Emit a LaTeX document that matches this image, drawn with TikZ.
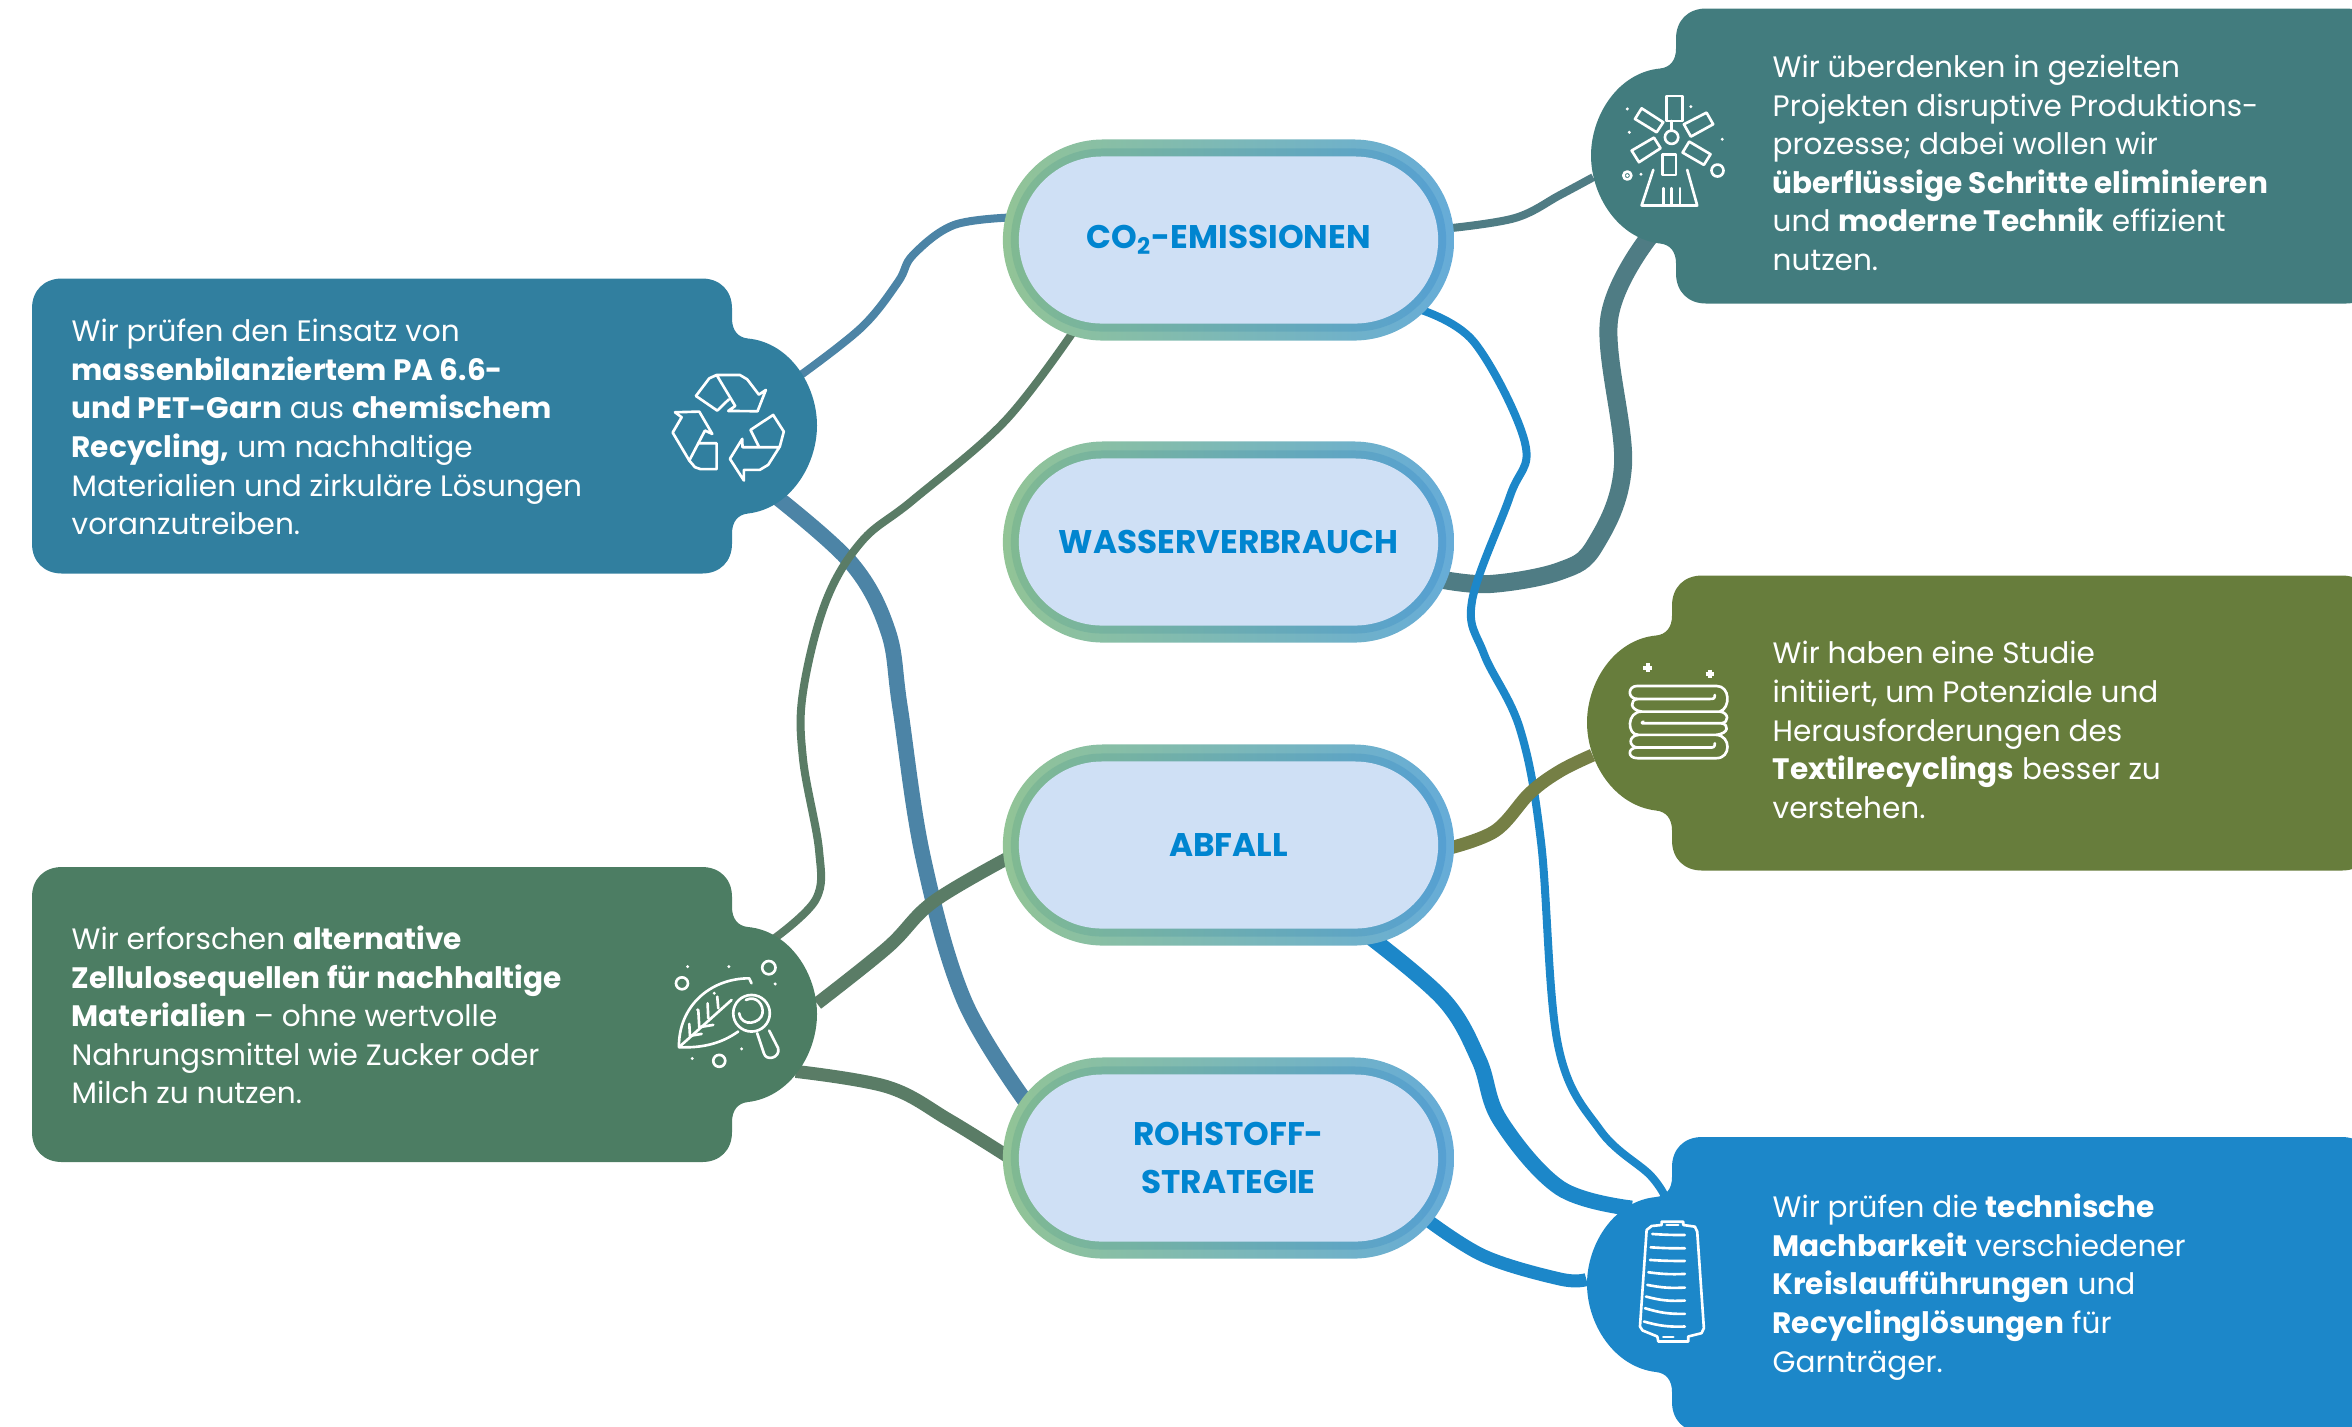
\documentclass[tikz,border=0pt]{standalone}
\usepackage{fontspec}
\setmainfont{Poppins}
\usetikzlibrary{shapes.misc,backgrounds}

\definecolor{tagrecycle}{HTML}{317F9F}
\definecolor{tagleaf}{HTML}{4C7D63}
\definecolor{tagmill}{HTML}{427C7E}
\definecolor{tagtowel}{HTML}{677D3C}
\definecolor{tagspool}{HTML}{1C87C9}
\definecolor{linkrecycle}{HTML}{4C84A6}
\definecolor{linkleaf}{HTML}{5A7C66}
\definecolor{linkmill}{HTML}{4F7C84}
\definecolor{linktowel}{HTML}{757F45}
\definecolor{pilltext}{HTML}{0085D0}
\definecolor{pillfill}{HTML}{CFE0F5}
\definecolor{ringleft}{HTML}{92C496}
\definecolor{ringright}{HTML}{66ACD8}
\definecolor{midleft}{HTML}{7EB892}
\definecolor{midright}{HTML}{549ED2}

\tikzset{
	pillouter/.style={rounded rectangle,inner sep=0pt,minimum width=4.51cm,minimum height=2.01cm,
		left color=ringleft,right color=ringright},
	pillmid/.style={rounded rectangle,inner sep=0pt,minimum width=4.35cm,minimum height=1.83cm,fill opacity=.85,
		left color=midleft,right color=midright},
	pillinner/.style={rounded rectangle,inner sep=0pt,minimum width=4.19cm,minimum height=1.67cm,fill=pillfill,
		text=pilltext,align=center,font=\fontsize{9.3}{13.6}\selectfont\bfseries},
	tagtext/.style={anchor=west,align=left,inner sep=0pt,text=white,font=\fontsize{8.4}{10.97}\selectfont},
	tagknob/.style={circle,inner sep=0pt,minimum size=1.7cm},
	iconarea/.style={x=0.00333cm,y=-0.00333cm,white,line width=.75pt,line join=round,line cap=round},
	linkthin/.style={line width=.08cm},
	linkmedium/.style={line width=.13cm},
	linkthick/.style={line width=.155cm},
}

% tag outline, origin in the middle of the notch
\newcommand{\tagoutline}{(-30,147) -- (-670,147)
	.. controls (-688,147) and (-700,135) .. (-700,117) -- (-700,-118)
	.. controls (-700,-136) and (-688,-148) .. (-670,-148) -- (-30,-148)
	.. controls (-12,-148) and (0,-136) .. (0,-118) -- (0,-108)
	.. controls (0,-96) and (6,-89) .. (16,-88)
	.. controls (58,-83) and (85,-40) .. (85,0)
	.. controls (85,40) and (58,83) .. (16,87)
	.. controls (6,88) and (0,95) .. (0,107) -- (0,117)
	.. controls (0,135) and (-12,147) .. (-30,147) -- cycle}

\begin{document}
\begin{tikzpicture}[x=0.01cm,y=0.01cm]
	\useasboundingbox (0,0) rectangle (2352,-1426);

	\fill[tagrecycle,shift={(732,-425.5)}] \tagoutline;
	\fill[tagleaf,shift={(732,-1014)}] \tagoutline;
	\fill[tagmill,shift={(1676,-155.5)},xscale=-1] \tagoutline;
	\fill[tagtowel,shift={(1672,-722.5)},xscale=-1] \tagoutline;
	\fill[tagspool,shift={(1672,-1284)},xscale=-1] \tagoutline;

	\node[tagknob] (recycle) at (732,-425) {};
	\node[tagknob] (leaf) at (732,-1014) {};
	\node[tagknob] (mill) at (1676,-155) {};
	\node[tagknob] (towel) at (1672,-723) {};
	\node[tagknob] (spool) at (1672,-1284) {};

	\node[tagtext] (recycletext) at (71,-427) {Wir prüfen den Einsatz von\\\textbf{massenbilanziertem PA 6.6-}\\\textbf{und PET-Garn} aus \textbf{chemischem}\\\textbf{Recycling,} um nachhaltige\\Materialien und zirkuläre Lösungen\\voranzutreiben.};
	\node[tagtext] (leaftext) at (71,-1015) {Wir erforschen \textbf{alternative}\\\textbf{Zellulosequellen für nachhaltige}\\\textbf{Materialien} -- ohne wertvolle\\Nahrungsmittel wie Zucker oder\\Milch zu nutzen.};
	\node[tagtext] (milltext) at (1772,-163) {Wir überdenken in gezielten\\Projekten disruptive Produktions-\\prozesse; dabei wollen wir\\\textbf{überflüssige Schritte eliminieren}\\und \textbf{moderne Technik} effizient\\nutzen.};
	\node[tagtext] (toweltext) at (1772,-730) {Wir haben eine Studie\\initiiert, um Potenziale und\\Herausforderungen des\\\textbf{Textilrecyclings} besser zu\\verstehen.};
	\node[tagtext] (spooltext) at (1772,-1287) {Wir prüfen die \textbf{technische}\\\textbf{Machbarkeit} verschiedener\\\textbf{Kreislaufführungen} und\\\textbf{Recyclinglösungen} für\\Garnträger.};

	\node[pillouter] (coring) at (1228.5,-240) {};
	\node[pillmid] (comid) at (1228.5,-240) {};
	\node[pillinner] (co) at (1228.5,-240) {CO\textsubscript{2}-EMISSIONEN};

	\node[pillouter] (wasserring) at (1228.5,-542) {};
	\node[pillmid] (wassermid) at (1228.5,-542) {};
	\node[pillinner] (wasser) at (1228.5,-542) {WASSERVERBRAUCH};

	\node[pillouter] (abfallring) at (1228.5,-845) {};
	\node[pillmid] (abfallmid) at (1228.5,-845) {};
	\node[pillinner] (abfall) at (1228.5,-845) {ABFALL};

	\node[pillouter] (rohstoffring) at (1228.5,-1158) {};
	\node[pillmid] (rohstoffmid) at (1228.5,-1158) {};
	\node[pillinner] (rohstoff) at (1228.5,-1158) {ROHSTOFF-\\STRATEGIE};

	\begin{scope}[on background layer]
		\draw[linkthin,linkrecycle] plot [smooth,tension=.6] coordinates {(recycle.36) (862,-327) (898,-282) (913,-255) (954,-225) (comid.174)};
		\draw[linkthick,linkrecycle] plot [smooth,tension=.6] coordinates {(recycle.-58) (852,-564) (888,-631) (900,-707) (923,-857) (964,-1000) (rohstoffmid.165)};
		\draw[linkthin,linkleaf] plot [smooth,tension=.6] coordinates {(leaf.61) (816,-899) (819,-850) (803,-759) (803,-692) (826,-601) (862,-541) (913,-500) (1005,-421) (comid.210)};
		\draw[linkmedium,linkleaf] plot [smooth,tension=.6] coordinates {(leaf.7) (888,-947) (933,-902) (abfallmid.183)};
		\draw[linkmedium,linkleaf] plot [smooth,tension=.6] coordinates {(leaf.-42) (888,-1087) (949,-1120) (rohstoffmid.180)};
		\draw[linkthin,linkmill] plot [smooth,tension=.6] coordinates {(comid.3) (1515,-218) (1560,-195) (mill.195)};
		\draw[line width=.18cm,linkmill] plot [smooth,tension=.6] coordinates {(wassermid.-10) (1490,-584) (1560,-571) (1595,-545) (1623,-465) (1609,-320) (mill.252)};
		\draw[linkthin,tagspool] plot [smooth,tension=.6] coordinates {(comid.-20) (1474,-342) (1525,-443) (1510,-496) (1472,-601) (1484,-654) (1520,-729) (1541,-842) (1558,-1045) (1600,-1130) (1650,-1175) (spool.94)};
		\draw[linkthick,tagspool] plot [smooth,tension=.6] coordinates {(abfallmid.-33) (1444,-1000) (1479,-1060) (1500,-1120) (1560,-1188) (spool.118)};
		\draw[linkmedium,tagspool] plot [smooth,tension=.6] coordinates {(rohstoffmid.-17) (1484,-1256) (1560,-1279) (spool.177)};
		\draw[linkmedium,linktowel] plot [smooth,tension=.6] coordinates {(abfallmid.-1) (1495,-831) (1530,-793) (1560,-771) (towel.202)};
	\end{scope}

	% recycling arrows
	\begin{scope}[shift={(660,-360)},iconarea]
		\draw (108,108) -- (148,55) -- (170,45) -- (240,45) -- (262,58) -- (297,104) -- (318,90) -- (293,154) -- (205,153) -- (226,138) -- (172,48);
		\draw (108,108) -- (172,152) -- (207,118);
		\draw (65,172) -- (45,157) -- (118,155) -- (157,222) -- (135,212) -- (88,302);
		\draw (65,172) -- (38,218) -- (88,302) -- (105,322) -- (122,328) -- (170,328) -- (170,250) -- (115,250);
		\draw (297,260) -- (272,210) -- (340,165) -- (372,215) -- (360,260) -- (325,315) -- (300,330) -- (252,330) -- (252,362) -- (210,297) -- (247,237) -- (248,262) -- (358,262);
	\end{scope}

	% leaf with magnifier
	\begin{scope}[shift={(660,-950)},iconarea]
		\draw (66,100) circle (18);
		\draw (327,53) circle (20);
		\draw (178,333) circle (18);
		\foreach \dotx/\doty in {83/50,207/50,346/102,245/297,97/326}
			\fill (\dotx,\doty) circle (5);
		\draw (275,100) -- (268,85) .. controls (150,85) and (55,170) .. (57,292) .. controls (130,295) and (185,280) .. (235,245);
		\draw (57,292) -- (215,150);
		\draw (90,258) -- (88,222);
		\draw (118,232) -- (115,180);
		\draw (145,205) -- (143,160);
		\draw (175,175) -- (172,140);
		\draw (90,258) -- (125,252);
		\draw (118,232) -- (160,225);
		\fill (113,180) circle (5);
		\fill (163,130) circle (5);
		\draw (275,190) circle (55);
		\draw (258,150) .. controls (290,135) and (312,165) .. (308,190) .. controls (304,220) and (245,235) .. (238,190);
		\draw (292,250) -- (312,310) .. controls (318,335) and (362,325) .. (355,295) -- (328,242);
	\end{scope}

	% windmill
	\begin{scope}[shift={(1610,-85)},iconarea]
		\draw (185,157) circle (20);
		\draw (170,33) rectangle (218,108);
		\draw (75,102) -- (95,70) -- (160,112) -- (140,142) -- cycle;
		\draw (222,118) -- (290,83) -- (310,118) -- (243,155) -- cycle;
		\draw (65,197) -- (87,232) -- (152,190) -- (132,158) -- cycle;
		\draw (218,203) -- (238,170) -- (302,208) -- (282,240) -- cycle;
		\draw (157,208) rectangle (198,270);
		\draw (185,108) -- (185,137);
		\draw (130,255) -- (95,362) -- (262,362) -- (232,255);
		\draw (160,362) -- (160,310);
		\draw (185,362) -- (185,310);
		\draw (210,362) -- (210,310);
		\foreach \dotx/\doty in {52/72,243/65,58/142,337/163,93/268,52/272}
			\fill (\dotx,\doty) circle (5);
		\draw (52,272) circle (12);
		\draw (323,257) circle (18);
	\end{scope}

	% folded towels
	\begin{scope}[shift={(1610,-650)},iconarea]
		\draw (315,135) .. controls (315,147) and (310,147) .. (300,147) -- (82,147) .. controls (52,147) and (52,108) .. (82,108) -- (320,108) .. controls (362,108) and (362,175) .. (330,185) -- (95,185) .. controls (50,185) and (50,255) .. (85,255) -- (320,255);
		\draw (82,147) .. controls (60,150) and (58,180) .. (95,185);
		\draw (100,215) .. controls (90,222) and (100,220) .. (110,220) -- (335,220) .. controls (358,218) and (358,188) .. (330,185);
		\draw (335,220) .. controls (358,224) and (358,250) .. (320,255) .. controls (364,258) and (364,325) .. (320,325) -- (82,325) .. controls (52,325) and (52,293) .. (82,293) -- (300,293) .. controls (310,293) and (315,293) .. (315,280);
		\draw (85,255) .. controls (55,258) and (55,290) .. (82,293);
		\draw[line width=1.2pt,line cap=butt] (100,53) -- (126,53) (113,40) -- (113,66);
		\draw[line width=1.2pt,line cap=butt] (287,72) -- (313,72) (300,59) -- (300,85);
	\end{scope}

	% yarn cone
	\begin{scope}[shift={(1620,-1210)},iconarea]
		\draw (80,60) -- (95,48) -- (125,45) -- (125,35) -- (190,35) -- (190,45) -- (225,50) -- (232,65) -- (252,355) -- (245,370) -- (205,380) -- (205,395) -- (115,395) -- (112,380) -- (68,362) -- (60,350) -- cycle;
		\draw (140,45) -- (175,45);
		\draw (130,382) -- (160,382);
		\draw (97,72) to [bend right=2] (195,75);
		\draw (92,112) to [bend right=2] (195,115);
		\draw (90,150) to [bend right=2] (195,153);
		\draw (85,187) to [bend right=5] (195,192);
		\draw (82,225) to [bend right=7] (195,233);
		\draw (78,260) to [bend right=9] (195,272);
		\draw (75,295) to [bend right=9] (195,312);
		\draw (72,335) to [bend right=9] (195,350);
	\end{scope}

\end{tikzpicture}
\end{document}
